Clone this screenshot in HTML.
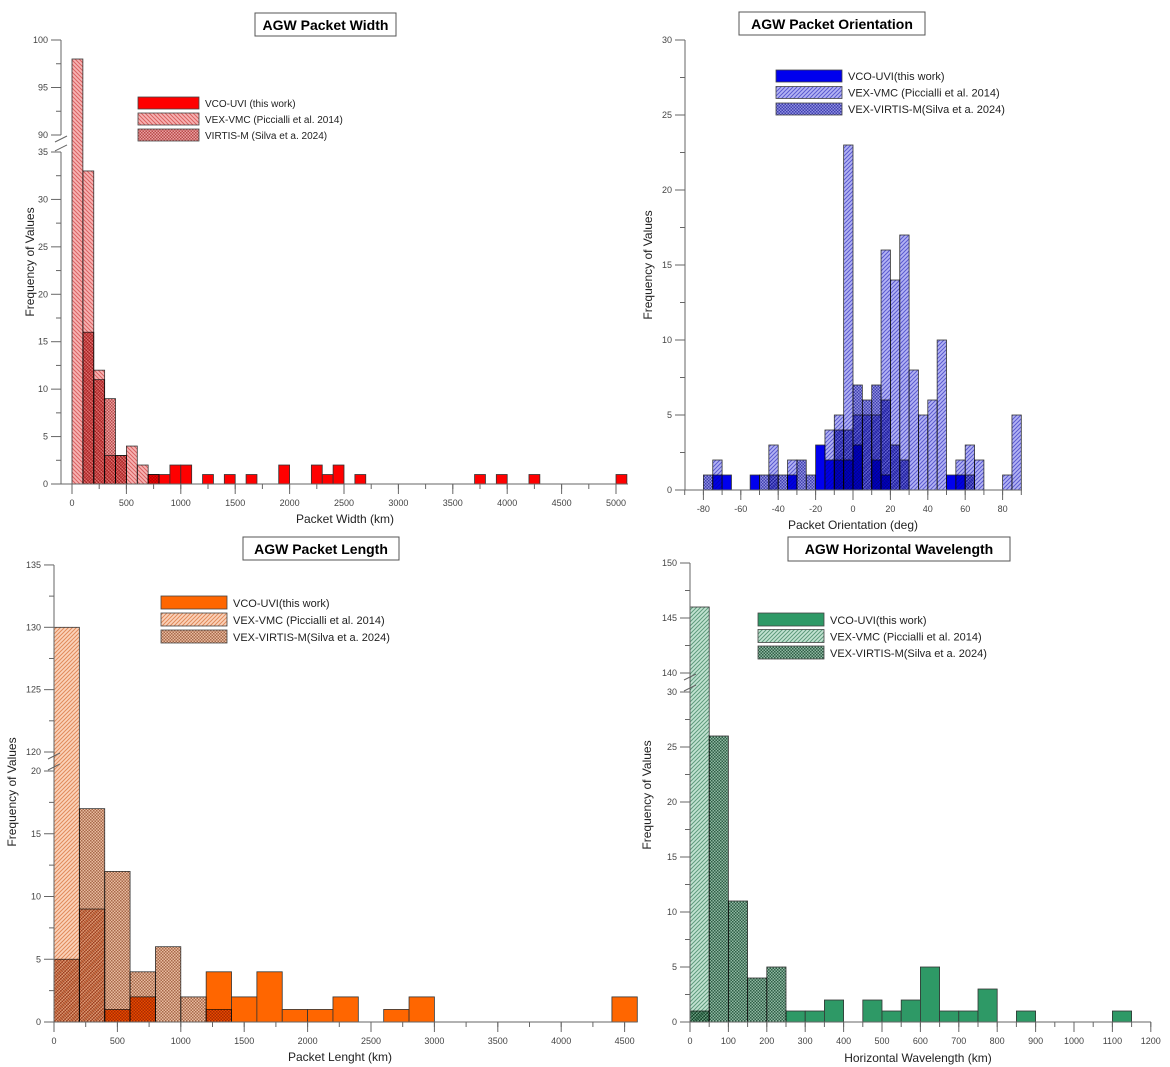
<!DOCTYPE html>
<html><head><meta charset="utf-8"><style>
body{margin:0;background:#fff;}
svg{display:block;font-family:"Liberation Sans",Arial,sans-serif;}
.mb{mix-blend-mode:multiply;}
</style></head><body>
<svg id="fig" width="1170" height="1067" viewBox="0 0 1170 1067" xmlns="http://www.w3.org/2000/svg">
<rect width="1170" height="1067" fill="#fff"/>
<defs id="defs"></defs>
</svg>
<script>
// ---- Panel 1: Packet Width (bin 100 km) ----
const p1Bins = [0,100,200,300,400,500,600,700,800,900,1000,1200,1400,1600,1900,2200,2300,2400,2600,3700,3900,4200,5000];
const p1Vmc  = [98,33,12,3,3,4,2,0,0,0,0,0,0,0,0,0,0,0,0,0,0,0,0];
const p1Virt = [0,16,11,9,3,0,0,1,0,0,0,0,0,0,0,0,0,0,0,0,0,0,0];
const p1Uvi  = [0,0,0,0,0,0,0,1,1,2,2,1,1,1,2,2,1,2,1,1,1,1,1];
const p1XTicks = [0,500,1000,1500,2000,2500,3000,3500,4000,4500,5000];
const p1YTicksLow = [0,5,10,15,20,25,30,35];
const p1YTicksUp = [90,95,100];

// ---- Panel 2: Packet Orientation (bin 5 deg) ----
const p2Bins = [-80,-75,-70,-55,-50,-45,-40,-35,-30,-25,-20,-15,-10,-5,0,5,10,15,20,25,30,35,40,45,50,55,60,65,80,85];
const p2Vmc  = [0,2,0,0,0,3,0,2,0,0,0,4,5,23,5,5,5,16,14,17,8,5,6,10,0,2,3,2,1,5];
const p2Virt = [1,0,0,0,1,1,1,0,2,1,0,0,4,4,7,6,7,6,3,2,0,0,0,0,0,0,1,0,0,0];
const p2Uvi  = [0,1,1,1,0,0,0,1,0,0,3,2,2,2,3,0,2,1,0,0,0,0,0,0,1,1,0,0,0,0];
const p2XTicks = [-80,-60,-40,-20,0,20,40,60,80];
const p2YTicks = [0,5,10,15,20,25,30];

// ---- Panel 3: Packet Length (bin 200 km) ----
const p3Bins = [0,200,400,600,800,1000,1200,1400,1600,1800,2000,2200,2600,2800,4400];
const p3Vmc  = [130,9,0,0,0,0,0,0,0,0,0,0,0,0,0];
const p3Virt = [5,17,12,4,6,2,1,0,0,0,0,0,0,0,0];
const p3Uvi  = [0,0,1,2,0,0,4,2,4,1,1,2,1,2,2];
const p3XTicks = [0,500,1000,1500,2000,2500,3000,3500,4000,4500];
const p3YTicksLow = [0,5,10,15,20];
const p3YTicksUp = [120,125,130,135];

// ---- Panel 4: Horizontal Wavelength (bin 50 km) ----
const p4Bins = [0,50,100,150,200,250,300,350,450,500,550,600,650,700,750,850,1100];
const p4Vmc  = [146,0,0,0,0,0,0,0,0,0,0,0,0,0,0,0,0];
const p4Virt = [1,26,11,4,5,0,0,0,0,0,0,0,0,0,0,0,0];
const p4Uvi  = [0,0,0,0,0,1,1,2,2,1,2,5,1,1,3,1,1];
const p4XTicks = [0,100,200,300,400,500,600,700,800,900,1000,1100,1200];
const p4YTicksLow = [0,5,10,15,20,25,30];
const p4YTicksUp = [140,145,150];

const NS = "http://www.w3.org/2000/svg";
const svg = document.getElementById('fig');
const defs = document.getElementById('defs');
function mk(tag, attrs, parent){const e=document.createElementNS(NS,tag);for(const k in attrs)e.setAttribute(k,attrs[k]);(parent||svg).appendChild(e);return e;}

function patterns(id, light, clight, dark, lineCol, dir){
  let p = mk('pattern',{id:id+'-h',width:4,height:4,patternUnits:'userSpaceOnUse'},defs);
  mk('rect',{width:4,height:4,fill:light},p);
  mk('path',{d:dir>0?'M-1,5 L5,-1 M3,5 L5,3 M-1,1 L1,-1':'M-1,-1 L5,5 M3,-1 L5,1 M-1,3 L1,5',stroke:lineCol,'stroke-width':1},p);
  let q = mk('pattern',{id:id+'-c',width:3,height:3,patternUnits:'userSpaceOnUse'},defs);
  mk('rect',{width:3,height:3,fill:clight},q);
  mk('rect',{width:1.5,height:1.5,fill:dark},q);
  mk('rect',{x:1.5,y:1.5,width:1.5,height:1.5,fill:dark},q);
}
patterns('red','#f7b4b4','#eaa0a0','#b84a4a','#d96060',-1);
patterns('blue','#b4b4f4','#9090e0','#4040b0','#5a5ad0',1);
patterns('org','#fbd3bb','#e8bca0','#a8694a','#e08a5a',1);
patterns('grn','#c3e3d2','#8fb8a2','#2f5e46','#5e9a7c',1);

function panel(cfg){
  const g = mk('g',{});
  
  
  const X = v => cfg.x0 + (v - cfg.xmin)*cfg.xs;
  const Y = v => {
    if(cfg.up && v >= cfg.up[0]) return cfg.upY0 - (v - cfg.up[0])*cfg.upS;
    return cfg.y0 - v*cfg.ys;
  };
  const series = [
    {vals:cfg.uvi, fill:cfg.solid, cls:'', nm:'uvi-bar'},
    {vals:cfg.vmc, fill:'url(#'+cfg.pid+'-h)', cls:'mb', nm:'vmc-bar'},
    {vals:cfg.virt, fill:'url(#'+cfg.pid+'-c)', cls:'mb', nm:'virtis-bar'}];
  series.forEach(s=>{
    s.vals.forEach((v,i)=>{
      if(!v) return;
      const x1=X(cfg.bins[i]), x2=X(cfg.bins[i]+cfg.bw), y=Y(v);
      const r = mk('rect',{x:x1,y:y,width:x2-x1,height:cfg.y0-y,fill:s.fill,stroke:'#333','stroke-width':0.8,'class':s.cls},g);
      
      
    });
  });
  const ax = mk('g',{stroke:'#666','stroke-width':1,fill:'none'},g);
  
  
  const top = Y(cfg.ymaxTick);
  if(cfg.up){
    mk('line',{x1:cfg.ax,y1:cfg.y0,x2:cfg.ax,y2:Y(cfg.lowMax)},ax);
    mk('line',{x1:cfg.ax,y1:cfg.upY0,x2:cfg.ax,y2:top},ax);
    const ya=Y(cfg.lowMax), yb=cfg.upY0;
    mk('path',{d:`M${cfg.ax-6},${ya-1} L${cfg.ax+6},${ya-7} M${cfg.ax-6},${yb+7} L${cfg.ax+6},${yb+1}`},ax);
  } else mk('line',{x1:cfg.ax,y1:cfg.y0,x2:cfg.ax,y2:top},ax);
  mk('line',{x1:cfg.ax,y1:cfg.y0,x2:cfg.xr,y2:cfg.y0},ax);
  const lab = mk('g',{fill:'#444','font-size':9},g);
  const yt = (list, minorStep)=>{
    list.forEach((t,i)=>{
      const y=Y(t);
      mk('line',{x1:cfg.ax-10,y1:y,x2:cfg.ax,y2:y},ax);
      const tx=mk('text',{x:cfg.ax-13,y:y+3,'text-anchor':'end'},lab); tx.textContent=t;
      
      
      if(i<list.length-1){const ym=Y(t+minorStep); mk('line',{x1:cfg.ax-5,y1:ym,x2:cfg.ax,y2:ym},ax);}
    });
  };
  if(cfg.up){yt(cfg.ytl,2.5); yt(cfg.ytu,2.5);} else yt(cfg.yt,2.5);
  cfg.xt.forEach((t,i)=>{
    const x=X(t);
    mk('line',{x1:x,y1:cfg.y0,x2:x,y2:cfg.y0+10},ax);
    const tx=mk('text',{x:x,y:cfg.y0+22,'text-anchor':'middle'},lab); tx.textContent=t;
    
    
  });
  for(let v=cfg.minorStart; X(v)<=cfg.xr+0.5; v+=cfg.minor){const x=X(v); mk('line',{x1:x,y1:cfg.y0,x2:x,y2:cfg.y0+5},ax);}
  const xtitle=mk('text',{x:cfg.xtx,y:cfg.xty,'text-anchor':'middle','font-size':12,fill:'#222'},g); xtitle.textContent=cfg.xlabel;
   
  const ytitle=mk('text',{x:0,y:0,transform:`translate(${cfg.ytx},${cfg.yty}) rotate(-90)`,'text-anchor':'middle','font-size':12,fill:'#222'},g); ytitle.textContent='Frequency of Values';
   
  const tb=mk('rect',{x:cfg.tbox[0],y:cfg.tbox[1],width:cfg.tbox[2],height:cfg.tbox[3],fill:'#fff',stroke:'#555','stroke-width':1},g);
   
  const tt=mk('text',{x:cfg.tbox[0]+cfg.tbox[2]/2,y:cfg.tbox[1]+17,'text-anchor':'middle','font-size':14,'font-weight':'bold',fill:'#000'},g); tt.textContent=cfg.title;
   
  const lg = mk('g',{},g);
   
  const fills=[cfg.solid,'url(#'+cfg.pid+'-h)','url(#'+cfg.pid+'-c)'];
  cfg.leg.forEach((t,i)=>{
    const y=cfg.lg[1]+i*cfg.lg[4];
    const sw=mk('rect',{x:cfg.lg[0],y:y,width:cfg.lg[2],height:cfg.lg[3],fill:fills[i],stroke:'#444','stroke-width':0.8},lg);
     
    const tx=mk('text',{x:cfg.lg[0]+cfg.lg[2]+6,y:y+cfg.lg[3]-2,'font-size':cfg.lgfs,fill:'#222'},lg); tx.textContent=t;
     
  });
}

panel({name:'packet-width-chart',pid:'red',solid:'#ff0000',bins:p1Bins,bw:100,vmc:p1Vmc,virt:p1Virt,uvi:p1Uvi,
  x0:72,xmin:0,xs:0.1088,ax:61,xr:628,y0:484,ys:9.486,lowMax:35,up:[90,100],upY0:135,upS:9.5,ymaxTick:100,
  ytl:p1YTicksLow,ytu:p1YTicksUp,xt:p1XTicks,minorStart:0,minor:250,
  xlabel:'Packet Width (km)',xtx:345,xty:523,ytx:34,yty:262,tbox:[255,13,141,23],title:'AGW Packet Width',
  lg:[138,97,61,12,16],lgfs:10,leg:['VCO-UVI (this work)','VEX-VMC (Piccialli et al. 2014)','VIRTIS-M (Silva et a. 2024)']});

panel({name:'packet-orientation-chart',pid:'blue',solid:'#0000ee',bins:p2Bins,bw:5,vmc:p2Vmc,virt:p2Virt,uvi:p2Uvi,
  x0:853,xmin:0,xs:1.87,ax:685,xr:1022,y0:490,ys:15,ymaxTick:30,
  yt:p2YTicks,xt:p2XTicks,minorStart:-90,minor:10,
  xlabel:'Packet Orientation (deg)',xtx:853,xty:529,ytx:652,yty:265,tbox:[739,12,186,23],title:'AGW Packet Orientation',
  lg:[776,70,66,12,16.5],lgfs:11,leg:['VCO-UVI(this work)','VEX-VMC (Piccialli et al. 2014)','VEX-VIRTIS-M(Silva et a. 2024)']});

panel({name:'packet-length-chart',pid:'org',solid:'#ff6600',bins:p3Bins,bw:200,vmc:p3Vmc,virt:p3Virt,uvi:p3Uvi,
  x0:54,xmin:0,xs:0.1268,ax:54,xr:637,y0:1022,ys:12.55,lowMax:20,up:[120,135],upY0:752,upS:12.47,ymaxTick:135,
  ytl:p3YTicksLow,ytu:p3YTicksUp,xt:p3XTicks,minorStart:0,minor:250,
  xlabel:'Packet Lenght (km)',xtx:340,xty:1061,ytx:16,yty:792,tbox:[243,537,156,23],title:'AGW Packet Length',
  lg:[161,596,66,13,17],lgfs:11,leg:['VCO-UVI(this work)','VEX-VMC (Piccialli et al. 2014)','VEX-VIRTIS-M(Silva et a. 2024)']});

panel({name:'horizontal-wavelength-chart',pid:'grn',solid:'#2e9966',bins:p4Bins,bw:50,vmc:p4Vmc,virt:p4Virt,uvi:p4Uvi,
  x0:690,xmin:0,xs:0.384,ax:690,xr:1151,y0:1022,ys:11,lowMax:30,up:[140,150],upY0:673,upS:11,ymaxTick:150,
  ytl:p4YTicksLow,ytu:p4YTicksUp,xt:p4XTicks,minorStart:0,minor:50,
  xlabel:'Horizontal Wavelength (km)',xtx:918,xty:1062,ytx:651,yty:795,tbox:[788,537,222,24],title:'AGW Horizontal Wavelength',
  lg:[758,613,66,13,16.5],lgfs:11,leg:['VCO-UVI(this work)','VEX-VMC (Piccialli et al. 2014)','VEX-VIRTIS-M(Silva et a. 2024)']});
</script>
</body></html>
